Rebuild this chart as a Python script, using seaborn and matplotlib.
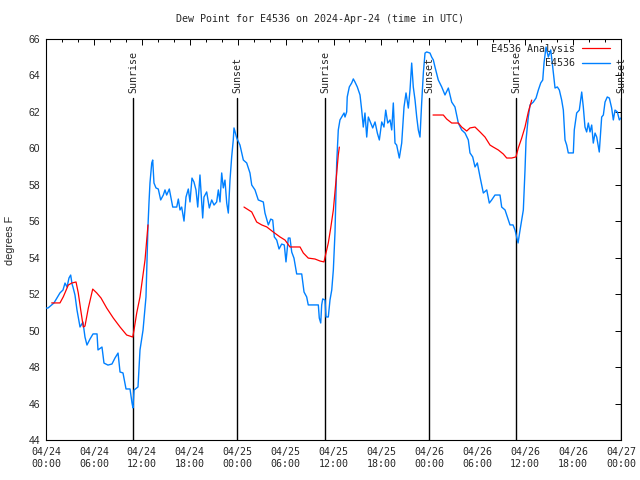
import pandas as pd
import numpy as np
import matplotlib
matplotlib.use("Agg")
import matplotlib.pyplot as plt
import seaborn as sns

# hours since 2024-04-24 00:00 UTC
obs_hours = [0.0, 0.25, 1.0, 1.75, 2.13, 2.38, 2.63, 2.88, 3.09, 3.26, 3.38, 3.63, 3.88, 4.26, 4.63,
             4.88, 5.13, 5.51, 5.89, 6.39, 6.51, 7.01, 7.26, 7.76, 8.26, 8.64, 9.02, 9.27, 9.64,
             10.02, 10.52, 10.77, 10.89, 11.02, 11.52, 11.77, 12.15, 12.52, 12.77, 12.90, 13.02,
             13.24, 13.36, 13.52, 13.77, 14.06, 14.36, 14.69, 14.90, 15.11, 15.44, 15.74, 15.87,
             16.37, 16.57, 16.78, 16.99, 17.28, 17.53, 17.82, 18.03, 18.28, 18.53, 18.78, 19.00,
             19.28, 19.62, 19.78, 20.12, 20.45, 20.75, 21.04, 21.37, 21.58, 21.79, 22.00, 22.20,
             22.41, 22.63, 22.83, 23.04, 23.25, 23.45, 23.54, 23.88, 24.29, 24.71, 25.13, 25.54,
             25.76, 26.17, 26.58, 27.21, 27.42, 27.84, 28.14, 28.39, 28.59, 28.89, 29.18, 29.51,
             29.84, 30.05, 30.34, 30.55, 30.77, 31.05, 31.39, 32.02, 32.31, 32.64, 32.84, 34.10,
             34.22, 34.40, 34.52, 34.65, 34.94, 35.06, 35.35, 35.56, 35.78, 35.98, 36.19, 36.40,
             36.60, 36.81, 37.03, 37.32, 37.44, 37.65, 37.72, 37.98, 38.28, 38.48, 38.69, 38.98,
             39.32, 39.53, 39.73, 39.94, 40.16, 40.36, 40.66, 40.91, 41.20, 41.49, 41.74, 42.04,
             42.32, 42.54, 42.79, 43.08, 43.29, 43.49, 43.70, 43.91, 44.24, 44.54, 44.83, 45.08,
             45.37, 45.58, 45.79, 45.99, 46.21, 46.42, 46.62, 46.83, 47.04, 47.25, 47.46, 47.67,
             48.08, 48.29, 48.50, 48.71, 49.12, 49.55, 49.96, 50.38, 50.80, 51.21, 51.63, 52.05,
             52.47, 52.88, 53.09, 53.43, 53.72, 54.01, 54.35, 54.76, 55.19, 55.51, 55.81, 56.22,
             56.85, 57.06, 57.48, 58.10, 58.48, 58.73, 59.11, 59.36, 59.77, 59.98, 60.11, 60.39,
             60.61, 61.02, 61.36, 61.65, 61.95, 62.20, 62.36, 62.61, 62.90, 63.20, 63.45, 63.74,
             64.03, 64.28, 64.57, 64.78, 64.99, 65.20, 65.40, 66.03, 66.15, 66.45, 66.78, 67.08,
             67.28, 67.49, 67.70, 67.91, 68.12, 68.33, 68.53, 68.75, 68.96, 69.28, 69.58, 69.79,
             70.00, 70.28, 70.54, 70.83, 71.04, 71.25, 71.54, 71.79, 72.00]
obs_dewpt = [51.24, 51.24, 51.52, 52.07, 52.23, 52.61, 52.39, 52.89, 53.05, 52.56, 52.39, 51.95, 51.13,
             50.20, 50.47, 49.65, 49.21, 49.54, 49.82, 49.82, 48.94, 49.10, 48.22, 48.11, 48.17,
             48.50, 48.77, 47.73, 47.68, 46.80, 46.80, 46.03, 45.76, 46.74, 46.91, 48.94, 50.03,
             51.85, 55.74, 57.06, 58.10, 59.20, 59.36, 58.10, 57.83, 57.77, 57.17, 57.44, 57.72,
             57.44, 57.77, 57.06, 56.78, 56.78, 57.22, 56.62, 56.78, 56.01, 57.33, 57.77, 57.06,
             58.37, 58.15, 57.72, 56.78, 58.54, 56.18, 57.33, 57.61, 56.73, 57.17, 56.89, 57.06,
             57.72, 57.06, 58.65, 57.83, 58.26, 57.00, 56.45, 58.26, 59.53, 60.46, 61.12, 60.57,
             60.18, 59.36, 59.20, 58.65, 57.99, 57.72, 57.17, 57.06, 56.45, 55.80, 56.12, 56.07,
             55.14, 54.97, 54.48, 54.75, 54.70, 53.77, 55.08, 55.08, 54.31, 53.98, 53.11, 53.11,
             52.12, 51.85, 51.41, 51.41, 50.69, 50.42, 51.41, 51.74, 51.68, 50.75, 50.75, 51.68,
             52.23, 53.33, 55.41, 59.20, 61.01, 61.56, 61.72, 61.94, 61.72, 62.00, 62.82, 63.37,
             63.59, 63.81, 63.64, 63.37, 62.93, 62.10, 61.17, 61.94, 60.62, 61.72, 61.39, 61.12,
             61.45, 60.84, 60.46, 61.45, 61.17, 62.10, 61.39, 61.56, 61.01, 62.49, 60.29, 60.18,
             59.47, 60.29, 62.27, 63.04, 62.21, 63.20, 64.68, 63.37, 62.65, 61.72, 61.01, 60.62,
             62.49, 64.13, 65.23, 65.29, 65.23, 65.01, 64.85, 64.46, 63.75, 63.37, 62.93, 63.31,
             62.54, 62.27, 61.39, 61.01, 60.84, 60.46, 59.75, 59.53, 58.98, 59.20, 58.43, 57.55,
             57.72, 57.00, 57.17, 57.44, 57.44, 56.78, 56.62, 55.80, 55.80, 55.52, 54.81, 55.52,
             56.62, 58.81, 60.46, 61.72, 62.38, 62.54, 62.76, 63.20, 63.59, 63.75, 64.68, 65.56,
             65.01, 65.40, 64.46, 63.31, 63.37, 63.20, 62.65, 62.10, 60.46, 60.18, 59.75, 59.75,
             61.01, 61.94, 62.10, 63.09, 62.27, 61.17, 60.90, 61.39, 60.90, 61.28, 60.29, 60.84,
             60.62, 59.80, 61.72, 61.83, 62.54, 62.82, 62.76, 62.21, 61.56, 62.10, 62.00, 61.56,
             61.67]

# analysis, three pieces with gaps between them
ana_hours_1 = [0.71, 1.75, 2.17, 2.79, 3.22, 3.76, 4.04, 4.35, 4.67, 4.88, 5.30, 5.85, 6.35, 6.89,
               7.60, 8.43, 9.27, 10.10, 10.86, 11.02, 11.36, 11.77, 12.11, 12.40, 12.77]
ana_dewpt_1 = [51.52, 51.52, 51.86, 52.50, 52.61, 52.67, 52.07, 51.13, 50.20, 50.25, 51.24, 52.28,
               52.07, 51.79, 51.24, 50.69, 50.20, 49.76, 49.65, 50.03, 50.97, 51.85, 52.94, 53.88,
               55.80]
ana_hours_2 = [24.79, 25.76, 26.38, 27.01, 27.64, 28.46, 29.30, 29.93, 30.55, 31.81, 32.22, 32.84,
               33.68, 34.31, 34.81, 35.06, 35.35, 35.65, 35.98, 36.40, 36.60, 36.73]
ana_dewpt_2 = [56.78, 56.51, 55.96, 55.80, 55.69, 55.41, 55.14, 54.97, 54.59, 54.59, 54.26, 53.98,
               53.93, 53.82, 53.77, 54.26, 54.81, 55.63, 56.62, 58.65, 59.64, 60.07]
ana_hours_3 = [48.46, 49.75, 50.17, 50.80, 51.63, 52.05, 52.68, 53.09, 53.72, 54.35, 54.97, 55.60,
               56.01, 56.64, 57.26, 57.69, 58.31, 58.85, 59.14, 59.57, 59.98, 60.39, 60.82]
ana_dewpt_3 = [61.83, 61.83, 61.61, 61.39, 61.39, 61.17, 60.95, 61.12, 61.17, 60.90, 60.62, 60.18,
               60.07, 59.91, 59.69, 59.47, 59.47, 59.53, 60.02, 60.57, 61.17, 61.99, 62.65]

event_hours = [10.89, 23.92, 34.94, 47.96, 58.85, 72.0]
event_names = ["Sunrise", "Sunset", "Sunrise", "Sunset", "Sunrise", "Sunset"]

tick_hours = list(range(0, 73, 6))
tick_labels = ["04/24\n00:00", "04/24\n06:00", "04/24\n12:00", "04/24\n18:00",
               "04/25\n00:00", "04/25\n06:00", "04/25\n12:00", "04/25\n18:00",
               "04/26\n00:00", "04/26\n06:00", "04/26\n12:00", "04/26\n18:00",
               "04/27\n00:00"]

obs = pd.DataFrame({"hours": obs_hours, "dewpt": obs_dewpt})
ana = pd.concat([
    pd.DataFrame({"hours": h, "dewpt": d, "seg": i})
    for i, (h, d) in enumerate([(ana_hours_1, ana_dewpt_1),
                                (ana_hours_2, ana_dewpt_2),
                                (ana_hours_3, ana_dewpt_3)])
])

sns.set_style("white")
mono = "DejaVu Sans Mono"
plt.rcParams["font.family"] = ["Liberation Sans", "DejaVu Sans"]

fig = plt.figure(figsize=(6.4, 4.8), dpi=100)
ax = fig.add_axes([46 / 640, 40 / 480, 575 / 640, 401 / 480])

sns.lineplot(data=obs, x="hours", y="dewpt", color="#0080ff", lw=1.0, ax=ax, zorder=3)
for seg, part in ana.groupby("seg"):
    sns.lineplot(data=part, x="hours", y="dewpt", color="red", lw=0.9, ax=ax, zorder=4)

# sunrise / sunset markers
top_frac = (440 - 98) / 401
for h, name in zip(event_hours, event_names):
    ax.axvline(h, ymin=0, ymax=top_frac, color="black", lw=1.0, zorder=2)
    ax.text(h, (440 - 93) / 401, name, transform=ax.get_xaxis_transform(),
            rotation=90, ha="center", va="bottom", fontsize=7.2, family=mono)

ax.set_xlim(0, 72)
ax.set_ylim(44, 66)
ax.set_xticks(tick_hours)
ax.set_xticklabels(tick_labels, family=mono, fontsize=7.2, linespacing=1.25)
ax.set_xticks(range(0, 73, 2), minor=True)
ax.set_yticks(range(44, 67, 2))
ax.tick_params(axis="y", labelsize=7.5)
ax.tick_params(which="both", direction="in", top=True, right=True, color="black", width=0.7)
ax.tick_params(which="major", length=4)
ax.tick_params(which="minor", length=2.2)
ax.tick_params(axis="x", pad=5)
ax.tick_params(axis="y", pad=4)
ax.set_xlabel("")
ax.set_ylabel("")
for sp in ax.spines.values():
    sp.set_color("black")
    sp.set_linewidth(0.8)

fig.text(10 / 640, 1 - 240 / 480, "degrees F", rotation=90, ha="center", va="center", fontsize=7.8)
fig.text(0.5, 1 - 19 / 480, "Dew Point for E4536 on 2024-Apr-24 (time in UTC)",
         ha="center", va="center", fontsize=7.2, family=mono)

h_red = plt.Line2D([], [], color="red", lw=0.9)
h_blue = plt.Line2D([], [], color="#0080ff", lw=1.0)
ax.legend([h_red, h_blue], ["E4536 Analysis", "E4536"], loc="upper right", frameon=False,
          bbox_to_anchor=(566 / 575, 398 / 401), markerfirst=False,
          prop={"family": mono, "size": 7.2}, handlelength=2.8,
          handletextpad=0.7, labelspacing=0.45, borderaxespad=0, borderpad=0.2)

fig.savefig("out.png", dpi=100)
